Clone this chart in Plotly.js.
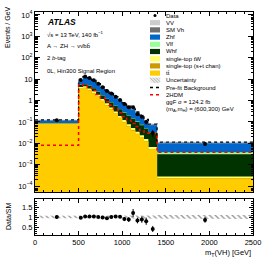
<!DOCTYPE html>
<html>
<head>
<meta charset="utf-8">
<script src="https://cdn.plot.ly/plotly-3.0.1.min.js"></script>
<style>html,body{margin:0;padding:0;background:#fff;}#chart{width:273px;height:262px;}</style>
</head>
<body>
<div id="chart"></div>
<script>
// ---- data (Events / GeV per bin) ----
var binEdges = [0, 500, 550, 600, 650, 700, 750, 800, 850, 900, 950, 1000, 1050, 1100, 1150, 1200, 1250, 1300, 1400, 2500];
var ttbar    = [0.080, 3.5, 3.8, 3.0, 2.2, 1.5, 0.95, 0.6, 0.38, 0.24, 0.15, 0.095, 0.06, 0.04, 0.027, 0.018, 0.012, 0.005, 0.00022];
var stSTchan = [0.002, 0.1, 0.11, 0.09, 0.065, 0.045, 0.03, 0.018, 0.011, 0.007, 0.0045, 0.003, 0.0018, 0.0012, 0.0008, 0.0005, 0.0004, 0.00015, 0.00001];
var stTW     = [0.003, 0.7, 0.75, 0.6, 0.45, 0.3, 0.2, 0.13, 0.085, 0.055, 0.035, 0.023, 0.015, 0.01, 0.007, 0.005, 0.0035, 0.0015, 0.00005];
var whf      = [0.002, 1.0, 1.1, 1.2, 1.0, 0.7, 0.53, 0.42, 0.32, 0.25, 0.2, 0.15, 0.118, 0.09, 0.065, 0.047, 0.032, 0.025, 0.0028];
var vlf      = [0.001, 0.1, 0.14, 0.11, 0.085, 0.06, 0.04, 0.03, 0.022, 0.016, 0.011, 0.008, 0.006, 0.004, 0.003, 0.002, 0.0015, 0.0012, 0.0007];
var zhf      = [0.030, 3.8, 6.6, 5.76, 4.6, 3.27, 2.45, 1.73, 1.23, 0.876, 0.626, 0.463, 0.338, 0.246, 0.17, 0.122, 0.0715, 0.040, 0.00675];
var smVh     = [0.001, 0.12, 0.16, 0.14, 0.11, 0.08, 0.055, 0.04, 0.028, 0.02, 0.014, 0.01, 0.007, 0.005, 0.004, 0.003, 0.002, 0.001, 0.00015];
var vv       = [0.001, 0.08, 0.11, 0.1, 0.08, 0.055, 0.04, 0.03, 0.02, 0.014, 0.01, 0.007, 0.005, 0.004, 0.003, 0.002, 0.0015, 0.001, 0.0001];
var dataVals = [0.12, 9.1, 13.1, 11.3, 8.8, 6.0, 4.2, 2.8, 2.1, 1.51, 1.07, 0.68, 0.48, 0.48, 0.23, 0.174, 0.098, 0.03, 0.0092];
var ratioErr = [0.07, 0.04, 0.03, 0.03, 0.035, 0.04, 0.045, 0.05, 0.06, 0.07, 0.08, 0.1, 0.12, 0.2, 0.14, 0.16, 0.18, 0.15, 0.14];
var prefit   = [0.125, 9.6, 13.2, 11.3, 8.8, 6.2, 4.4, 3.1, 2.15, 1.52, 1.08, 0.78, 0.56, 0.41, 0.29, 0.205, 0.13, 0.078, 0.0112];
var signal2HDM = [0.008, 5.8, 5.0, 4.0, 2.9, 1.9, 1.3, 0.87, 0.6, 0.4, 0.27, 0.18, 0.12, 0.085, 0.06, 0.04, 0.03, 0.028, 0.0038];
var uncRel   = [0.06, 0.05, 0.05, 0.05, 0.05, 0.05, 0.05, 0.05, 0.06, 0.06, 0.06, 0.06, 0.07, 0.07, 0.07, 0.08, 0.08, 0.08, 0.1];

var yTickVals = [1e-4, 1e-3, 1e-2, 1e-1, 1, 10, 1e2, 1e3, 1e4];
var yTickText = ['10<sup>\u22124</sup>', '10<sup>\u22123</sup>', '10<sup>\u22122</sup>', '10<sup>\u22121</sup>', '1', '10', '10<sup>2</sup>', '10<sup>3</sup>', '10<sup>4</sup>'];
var xTickVals = [0, 500, 1000, 1500, 2000, 2500];
var xTickText = ['0', '500', '1000', '1500', '2000', '2500'];
var rTickVals = [0.5, 1, 1.5];
var rTickText = ['0.5', '1', '1.5'];

var components = [
  {name: 'VV', vals: vv, color: '#cccccc'},
  {name: 'SM Vh', vals: smVh, color: '#6e6e6e'},
  {name: 'Zhf', vals: zhf, color: '#0066cc'},
  {name: 'Vlf', vals: vlf, color: '#99ff99'},
  {name: 'Whf', vals: whf, color: '#003300'},
  {name: 'single-top tW', vals: stTW, color: '#ffff66'},
  {name: 'single-top (s+t chan)', vals: stSTchan, color: '#cc9900'},
  {name: 't\u0074\u0304', vals: ttbar, color: '#ffcc00'}
];

// ---- helpers ----
var nb = dataVals.length;
var centers = [], widths = [];
for (var i = 0; i < nb; i++) { centers.push((binEdges[i] + binEdges[i+1]) / 2); widths.push(binEdges[i+1] - binEdges[i]); }
function stepXY(vals) {
  var xs = [], ys = [];
  for (var i = 0; i < vals.length; i++) { xs.push(binEdges[i], binEdges[i+1]); ys.push(vals[i], vals[i]); }
  return {x: xs, y: ys};
}
function filledStep(vals, floor) {
  var s = stepXY(vals);
  return {x: [binEdges[0]].concat(s.x, [binEdges[nb]]), y: [floor].concat(s.y, [floor])};
}
function band(lo, hi) {
  var a = stepXY(hi), b = stepXY(lo);
  return {x: a.x.concat(b.x.slice().reverse()), y: a.y.concat(b.y.slice().reverse())};
}

// cumulative stack (bottom = ttbar)
var order = components.slice().reverse(); // bottom to top
var cum = [], run = new Array(nb).fill(0);
for (var k = 0; k < order.length; k++) {
  run = run.map(function (v, i) { return v + order[k].vals[i]; });
  cum.push(run.slice());
}
var total = cum[cum.length - 1];

var traces = [];
// draw top-most cumulative first
for (var k = order.length - 1; k >= 0; k--) {
  var f = filledStep(cum[k], 1e-7);
  traces.push({type: 'scatter', mode: 'lines', x: f.x, y: f.y, fill: 'toself', fillcolor: order[k].color,
    line: {width: 0, color: order[k].color}, xaxis: 'x', yaxis: 'y', hoverinfo: 'skip', showlegend: false});
}
// uncertainty band main
var up = total.map(function (v, i) { return v * (1 + uncRel[i]); });
var dn = total.map(function (v, i) { return v * (1 - uncRel[i]); });
var bm = band(dn, up);
traces.push({type: 'scatter', mode: 'lines', x: bm.x, y: bm.y, fill: 'toself', fillcolor: 'rgba(0,0,0,0)',
  fillpattern: {shape: '\\', fgcolor: '#888888', bgcolor: 'rgba(255,255,255,0.4)', size: 4, solidity: 0.35},
  line: {width: 0}, xaxis: 'x', yaxis: 'y', showlegend: false, hoverinfo: 'skip'});
// prefit
var pf = stepXY(prefit);
traces.push({type: 'scatter', mode: 'lines', x: pf.x, y: pf.y, line: {color: '#000000', width: 1.3, dash: 'dot'},
  xaxis: 'x', yaxis: 'y', showlegend: false, hoverinfo: 'skip'});
// 2HDM signal
var sg = stepXY(signal2HDM);
traces.push({type: 'scatter', mode: 'lines', x: sg.x, y: sg.y, line: {color: '#ff0000', width: 1.5, dash: 'dot'},
  xaxis: 'x', yaxis: 'y', showlegend: false, hoverinfo: 'skip'});
// data
traces.push({type: 'scatter', mode: 'markers', x: centers, y: dataVals,
  error_y: {type: 'data', array: ratioErr.map(function (e, i) { return e * total[i]; }), color: '#000', thickness: 1, width: 0},
  marker: {color: '#000', size: 4}, xaxis: 'x', yaxis: 'y', showlegend: false, hoverinfo: 'skip'});

// ratio panel
var rb = band(uncRel.map(function (u) { return 1 - u; }), uncRel.map(function (u) { return 1 + u; }));
traces.push({type: 'scatter', mode: 'lines', x: rb.x, y: rb.y, fill: 'toself', fillcolor: 'rgba(0,0,0,0)',
  fillpattern: {shape: '\\', fgcolor: '#999999', bgcolor: '#ffffff', size: 4, solidity: 0.35},
  line: {width: 0}, xaxis: 'x2', yaxis: 'y2', showlegend: false, hoverinfo: 'skip'});
traces.push({type: 'scatter', mode: 'markers', x: centers, y: dataVals.map(function (d, i) { return d / total[i]; }),
  error_y: {type: 'data', array: ratioErr, color: '#000', thickness: 1, width: 0},
  marker: {color: '#000', size: 4}, xaxis: 'x2', yaxis: 'y2', showlegend: false, hoverinfo: 'skip'});

// ---- layout helpers ----
var L = 35, R = 253, T = 12, B = 235;
function px(x) { return (x - L) / (R - L); }
function py(y) { return (B - y) / (B - T); }

var minorLog = [];
for (var e = -5; e <= 4; e++) for (var m = 2; m <= 9; m++) minorLog.push(m * Math.pow(10, e));

var fontFam = 'Liberation Sans, Arial, sans-serif';
var axCommon = {showline: true, linecolor: '#000', linewidth: 1, mirror: 'allticks', ticks: 'inside', tickcolor: '#000',
  showgrid: false, zeroline: false, tickfont: {family: fontFam, size: 7.5, color: '#000'}};

var annotations = [], shapes = [];
function txt(x, y, s, size, anchor, extra) {
  var a = {xref: 'paper', yref: 'paper', x: px(x), y: py(y), text: s, showarrow: false, xanchor: anchor || 'left', yanchor: 'middle',
    font: {family: fontFam, size: size, color: '#000'}};
  if (extra) for (var k in extra) a[k] = extra[k];
  annotations.push(a);
}
txt(45, 22, '<b><i>ATLAS</i></b>', 8.5);
txt(45, 34, '\u221As = 13 TeV, 140 fb<sup>\u22121</sup>', 6);
txt(45, 46, 'A \u2192 ZH \u2192 \u03BD\u03BD\u0304b<span>b\u0304</span>', 6);
txt(45, 58, '2 <i>b</i>-tag', 6);
txt(45, 71, '0L, Hin300 Signal Region', 6);

// legend
var legRows = ['Data', 'VV', 'SM Vh', 'Zhf', 'Vlf', 'Whf', 'single-top tW', 'single-top (s+t chan)', 't\u0074\u0304', 'Uncertainty', 'Pre-fit Background', '2HDM'];
var legColors = {'VV': '#cccccc', 'SM Vh': '#6e6e6e', 'Zhf': '#0066cc', 'Vlf': '#99ff99', 'Whf': '#003300',
  'single-top tW': '#ffff66', 'single-top (s+t chan)': '#cc9900', 't\u0074\u0304': '#ffcc00'};
var y0 = 15.5, dy = 7.2, sx0 = 150, sx1 = 160, tx = 164;
legRows.forEach(function (name, i) {
  var yy = y0 + i * dy;
  txt(tx, yy, name, 6);
  if (legColors[name]) {
    shapes.push({type: 'rect', xref: 'paper', yref: 'paper', x0: px(sx0), x1: px(sx1), y0: py(yy + 2.6), y1: py(yy - 2.6),
      fillcolor: legColors[name], line: {width: 0}});
  } else if (name === 'Data') {
    shapes.push({type: 'circle', xref: 'paper', yref: 'paper', x0: px(153.5), x1: px(156.5), y0: py(yy + 1.5), y1: py(yy - 1.5), fillcolor: '#000', line: {width: 0}});
  } else if (name === 'Uncertainty') {
    shapes.push({type: 'rect', xref: 'paper', yref: 'paper', x0: px(sx0), x1: px(sx1), y0: py(yy + 2.6), y1: py(yy - 2.6), fillcolor: '#eeeeee', line: {width: 0}});
    var p = '';
    for (var h = 0; h < 4; h++) {
      var xa = sx0 + h * 3;
      p += 'M' + px(xa) + ',' + py(yy - 2.6) + 'L' + px(Math.min(xa + 5.2, sx1)) + ',' + py(yy - 2.6 + Math.min(5.2, sx1 - xa)) + ' ';
    }
    shapes.push({type: 'path', xref: 'paper', yref: 'paper', path: p, line: {color: '#999', width: 0.8}});
  } else {
    shapes.push({type: 'line', xref: 'paper', yref: 'paper', x0: px(sx0), x1: px(sx1), y0: py(yy), y1: py(yy),
      line: {color: name === '2HDM' ? '#ff0000' : '#000', width: 1.5, dash: 'dot'}});
  }
});
txt(tx, y0 + 12 * dy, 'ggF \u03C3 = 124.2 fb', 6);
txt(tx, y0 + 13 * dy, '(m<sub>A</sub>,m<sub>H</sub>) = (600,300) GeV', 6);

// axis titles
txt(8, 27, 'Events / GeV', 7, 'center', {textangle: -90});
txt(8, 217, 'Data/SM', 7, 'center', {textangle: -90});
annotations.push({xref: 'paper', yref: 'paper', x: 1, y: py(253), xanchor: 'right', yanchor: 'middle', showarrow: false,
  text: 'm<sub>T</sub>(VH) [GeV]', font: {family: fontFam, size: 7.5, color: '#000'}});

var layout = {
  width: 273, height: 262, margin: {l: L, r: 273 - R, t: T, b: 262 - B},
  paper_bgcolor: '#fff', plot_bgcolor: '#fff', showlegend: false,
  xaxis: Object.assign({}, axCommon, {domain: [0, 1], anchor: 'y', range: [0, 2500], tickmode: 'array', tickvals: xTickVals, ticktext: xTickText,
    showticklabels: false, ticklen: 4, minor: {dtick: 100, ticks: 'inside', ticklen: 2, tickcolor: '#000'}}),
  yaxis: Object.assign({}, axCommon, {domain: [py(192), 1], anchor: 'x', type: 'log', range: [-4.28, 4.14], tickmode: 'array',
    tickvals: yTickVals, ticktext: yTickText, ticklen: 5, minor: {tickmode: 'array', tickvals: minorLog, ticks: 'inside', ticklen: 2.5, tickcolor: '#000'}}),
  xaxis2: Object.assign({}, axCommon, {domain: [0, 1], anchor: 'y2', range: [0, 2500], tickmode: 'array', tickvals: xTickVals, ticktext: xTickText,
    ticklen: 4, minor: {dtick: 100, ticks: 'inside', ticklen: 2, tickcolor: '#000'}}),
  yaxis2: Object.assign({}, axCommon, {domain: [0, py(199)], anchor: 'x2', range: [0.1, 1.9], tickmode: 'array', tickvals: rTickVals, ticktext: rTickText,
    ticklen: 4, minor: {dtick: 0.1, ticks: 'inside', ticklen: 2, tickcolor: '#000'}}),
  annotations: annotations, shapes: shapes
};

Plotly.newPlot('chart', traces, layout, {staticPlot: true, displayModeBar: false});
</script>
</body>
</html>
